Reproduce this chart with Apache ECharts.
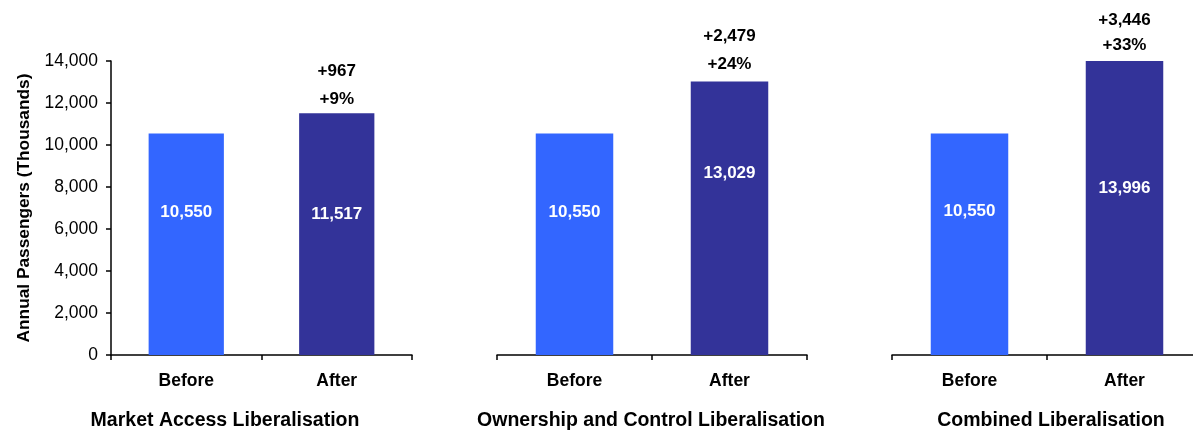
<!DOCTYPE html>
<html>
<head>
<meta charset="utf-8">
<script src="https://cdn.jsdelivr.net/npm/echarts@6/dist/echarts.min.js"></script>
<style>
html,body{margin:0;padding:0;background:#fff;overflow:hidden;width:1193px;height:432px;}
#chart{width:1202px;height:432px;}
</style>
</head>
<body>
<div id="chart"></div>
<script>
var categories = ['Before', 'After'];
var panelTitles = ['Market Access Liberalisation', 'Ownership and Control Liberalisation', 'Combined Liberalisation'];
var beforeValues = [10550, 10550, 10550];
var afterValues = [11517, 13029, 13996];
var changeLabels = ['+967', '+2,479', '+3,446'];
var pctLabels = ['+9%', '+24%', '+33%'];
var yTickMin = 0, yTickMax = 14000, yTickStep = 2000;

var FONT = "'Liberation Sans', Arial, sans-serif";
var LIGHT = '#3366FF', DARK = '#333399';

// layout / style (not data)
var grids = [
  {left: 111, top: 61, width: 301, height: 294},
  {left: 497, top: 61, width: 310, height: 294},
  {left: 892, top: 61, width: 310, height: 294}
];
var titleX = [225, 651, 1051];
var beforeOffset = [-32, -32, -33];
var afterOffset = [-20, -45, -20];
var topLineH = [28, 28, 25];
var topDist = [0, 3, 3];

function fmt(v){ return v.toLocaleString('en-US'); }

var option = {
  animation: false,
  backgroundColor: '#fff',
  grid: grids,
  xAxis: [], yAxis: [], series: [],
  graphic: []
};

for (var i = 0; i < 3; i++) {
  option.xAxis.push({
    type: 'category', gridIndex: i, data: categories,
    axisLine: {show: true, lineStyle: {color: '#000', width: 1.5}},
    axisTick: {show: true, length: 5, lineStyle: {color: '#000', width: 1.5}},
    axisLabel: {color: '#000', fontFamily: FONT, fontWeight: 'bold', fontSize: 17.5, margin: 17},
    splitLine: {show: false}
  });
  option.yAxis.push({
    type: 'value', gridIndex: i, min: yTickMin, max: yTickMax, interval: yTickStep,
    show: i === 0,
    name: i === 0 ? 'Annual Passengers (Thousands)' : '',
    nameLocation: 'middle', nameGap: 78,
    nameTextStyle: {color: '#000', fontFamily: FONT, fontWeight: 'bold', fontSize: 17.3},
    axisLine: {show: true, lineStyle: {color: '#000', width: 1.5}},
    axisTick: {show: true, length: 5, lineStyle: {color: '#000', width: 1.5}},
    axisLabel: {color: '#000', fontFamily: FONT, fontSize: 17.5, margin: 13, formatter: function(v){ return fmt(v); }},
    splitLine: {show: false}
  });
  var lblBase = {show: true, position: 'inside', color: '#fff', fontFamily: FONT, fontWeight: 'bold', fontSize: 17,
                 formatter: function(p){ return fmt(p.value); }};
  option.series.push({
    type: 'bar', xAxisIndex: i, yAxisIndex: i, barWidth: '50%',
    data: [
      {value: beforeValues[i], itemStyle: {color: LIGHT}, label: Object.assign({}, lblBase, {offset: [0, beforeOffset[i]]})},
      {value: afterValues[i], itemStyle: {color: DARK}, label: Object.assign({}, lblBase, {offset: [0, afterOffset[i]]})}
    ]
  });
  (function(k){
    option.series.push({
      type: 'scatter', xAxisIndex: k, yAxisIndex: k, symbolSize: 0, silent: true,
      data: [['After', afterValues[k]]],
      itemStyle: {color: '#000', opacity: 1},
      label: {show: true, position: 'top', distance: topDist[k], color: '#000', opacity: 1, fontFamily: FONT, fontWeight: 'bold',
              fontSize: 17, lineHeight: topLineH[k],
              formatter: function(){ return changeLabels[k] + '\n' + pctLabels[k]; }}
    });
  })(i);
  option.graphic.push({
    type: 'text', x: titleX[i], y: 421,
    style: {text: panelTitles[i], align: 'center', verticalAlign: 'middle', textAlign: 'center', textVerticalAlign: 'middle',
            fill: '#000', font: 'bold 19.5px ' + FONT}
  });
}

var chart = echarts.init(document.getElementById('chart'));
chart.setOption(option);
</script>
</body>
</html>
